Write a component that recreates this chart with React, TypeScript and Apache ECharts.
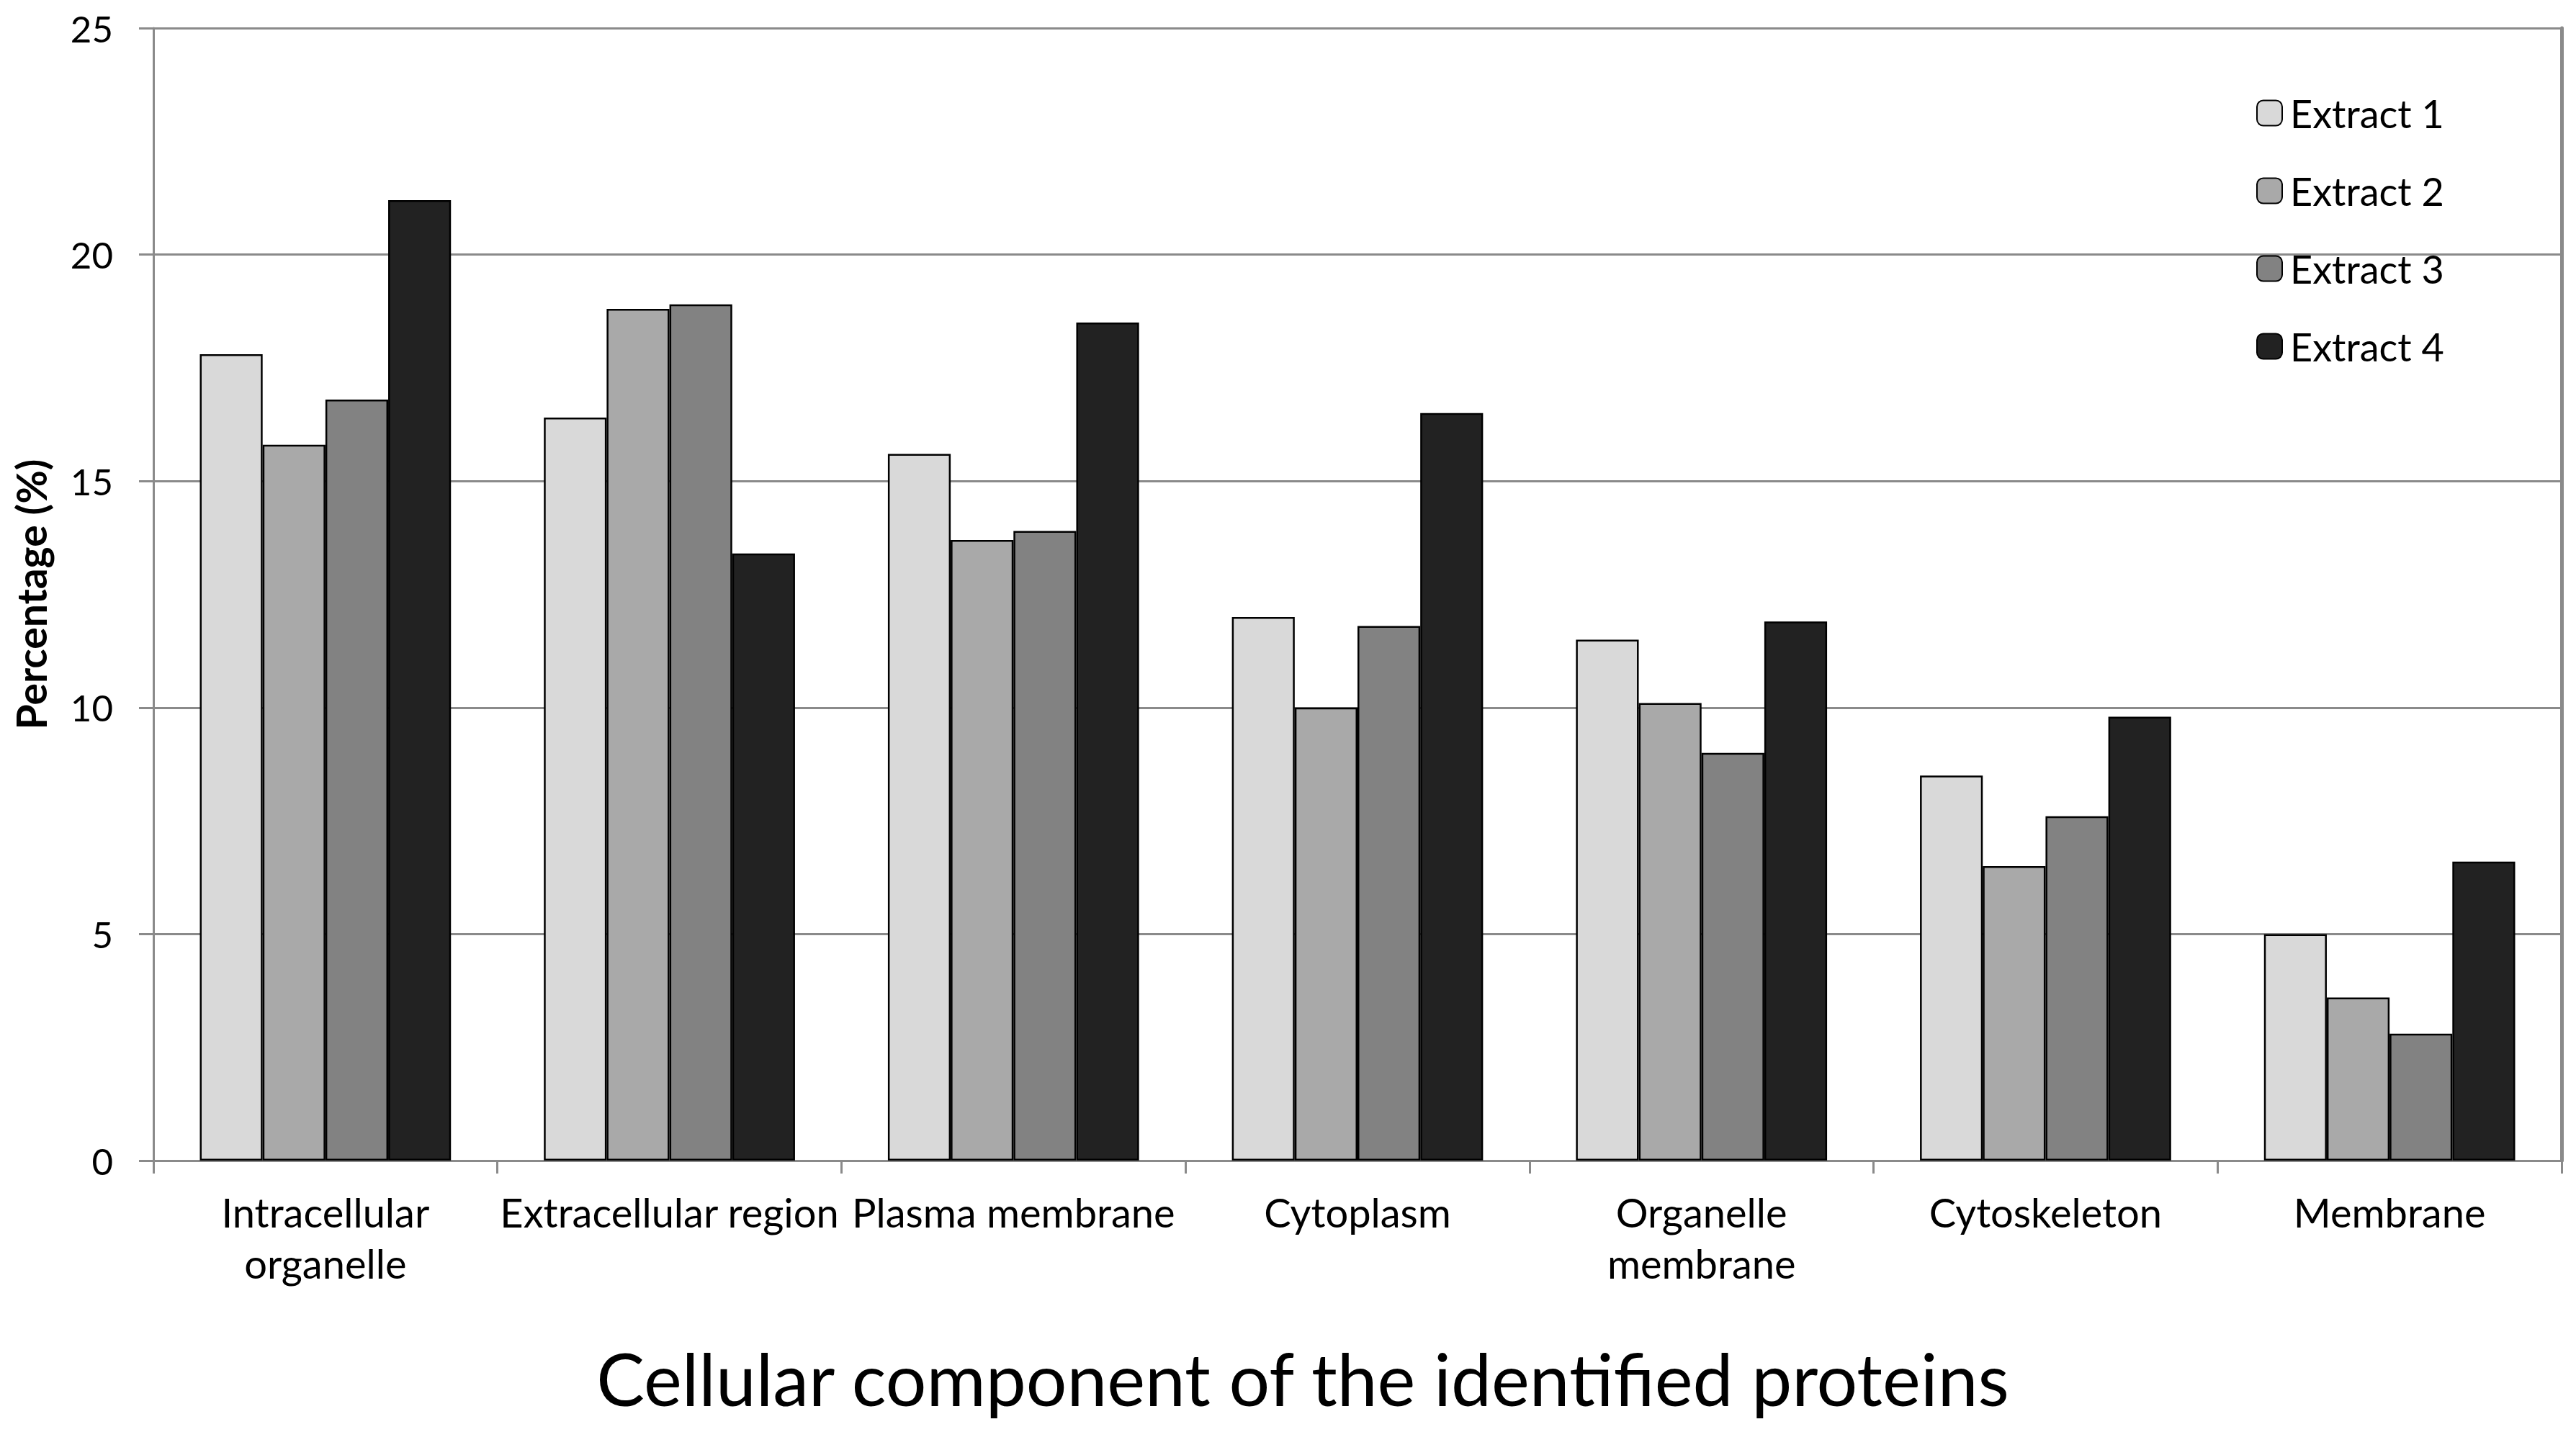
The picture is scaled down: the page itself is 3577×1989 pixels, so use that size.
import React, { useEffect, useRef } from "react";
import * as echarts from "echarts";

const categories = [
  "Intracellular\norganelle",
  "Extracellular region",
  "Plasma membrane",
  "Cytoplasm",
  "Organelle\nmembrane",
  "Cytoskeleton",
  "Membrane",
];
const seriesNames = ["Extract 1", "Extract 2", "Extract 3", "Extract 4"];
const extract1 = [17.8, 16.4, 15.6, 12.0, 11.5, 8.5, 5.0];
const extract2 = [15.8, 18.8, 13.7, 10.0, 10.1, 6.5, 3.6];
const extract3 = [16.8, 18.9, 13.9, 11.8, 9.0, 7.6, 2.8];
const extract4 = [21.2, 13.4, 18.5, 16.5, 11.9, 9.8, 6.6];
const seriesColors = ["#d9d9d9", "#a9a9a9", "#828282", "#222222"];
const yTicks = { min: 0, max: 25, interval: 5 };

const FONT = "Lato, 'Open Sans', sans-serif";
const GRID_COLOR = "#8a8a8a";

export default function App() {
  const ref = useRef<HTMLDivElement>(null);
  useEffect(() => {
    if (!ref.current) return;
    const chart = echarts.init(ref.current, null, { renderer: "svg" });
    const values = [extract1, extract2, extract3, extract4];
    chart.setOption({
      animation: false,
      backgroundColor: "#ffffff",
      title: {
        text: "Cellular component of the identified proteins",
        left: 1809,
        top: 1864,
        textAlign: "center",
        padding: 0,
        textStyle: {
          fontFamily: FONT,
          fontSize: 100,
          fontWeight: "normal",
          color: "#000",
        },
      },
      legend: {
        orient: "vertical",
        left: 3128,
        top: 122,
        itemWidth: 35,
        itemHeight: 35,
        itemGap: 48,
        data: seriesNames,
        textStyle: {
          fontFamily: FONT,
          fontSize: 54,
          color: "#000",
          lineHeight: 60,
          padding: [0, 0, 0, 6],
        },
      },
      grid: {
        left: 213,
        right: 20,
        top: 39,
        bottom: 377,
        containLabel: false,
        outerBoundsMode: "none",
      },
      xAxis: {
        type: "category",
        data: categories,
        axisLine: { show: true, lineStyle: { color: GRID_COLOR, width: 3 } },
        axisTick: { show: true, length: 18, lineStyle: { color: GRID_COLOR, width: 3 } },
        axisLabel: {
          interval: 0,
          margin: 36,
          fontFamily: FONT,
          fontSize: 56,
          lineHeight: 71,
          color: "#000",
        },
        splitLine: { show: false },
      },
      yAxis: [
        {
          type: "value",
          min: yTicks.min,
          max: yTicks.max,
          interval: yTicks.interval,
          name: "Percentage (%)",
          nameLocation: "middle",
          nameRotate: 90,
          nameGap: 142,
          nameTextStyle: {
            fontFamily: FONT,
            fontSize: 57,
            fontWeight: "bold",
            color: "#000",
          },
          axisLine: { show: true, lineStyle: { color: GRID_COLOR, width: 3 } },
          axisTick: { show: true, length: 20, lineStyle: { color: GRID_COLOR, width: 3 } },
          axisLabel: {
            margin: 56,
            fontFamily: FONT,
            fontSize: 51,
            color: "#000",
          },
          splitLine: { show: true, lineStyle: { color: GRID_COLOR, width: 3 } },
        },
        {
          type: "value",
          position: "right",
          min: yTicks.min,
          max: yTicks.max,
          interval: yTicks.interval,
          axisLine: { show: true, lineStyle: { color: GRID_COLOR, width: 5 } },
          axisTick: { show: false },
          axisLabel: { show: false },
          splitLine: { show: false },
        },
      ],
      series: seriesNames.map((name, i) => ({
        name,
        type: "bar",
        data: values[i],
        yAxisIndex: 0,
        barGap: "0%",
        barCategoryGap: "27%",
        itemStyle: {
          color: seriesColors[i],
          borderColor: "#000",
          borderWidth: 2.5,
        },
      })),
    });
    return () => chart.dispose();
  }, []);
  return (
    <div
      ref={ref}
      style={{ position: "fixed", left: 0, top: 0, width: 3577, height: 1989 }}
    />
  );
}
